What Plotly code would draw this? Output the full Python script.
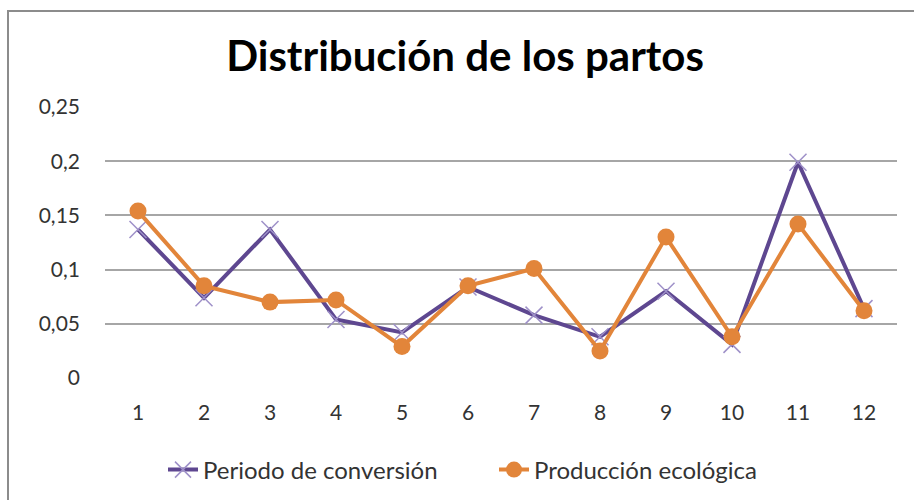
import plotly.graph_objects as go

meses = ["1", "2", "3", "4", "5", "6", "7", "8", "9", "10", "11", "12"]
periodo_conversion = [0.137, 0.074, 0.137, 0.054, 0.042, 0.084, 0.058, 0.038, 0.080, 0.031, 0.199, 0.064]
produccion_ecologica = [0.154, 0.085, 0.070, 0.072, 0.029, 0.085, 0.101, 0.025, 0.130, 0.038, 0.142, 0.062]
y_ticks = [0, 0.05, 0.1, 0.15, 0.2, 0.25]
y_tick_labels = ["0", "0,05", "0,1", "0,15", "0,2", "0,25"]

FONT = "Lato"
PURPLE = "#5E4790"
PURPLE_MARK = "#9E90C8"
ORANGE = "#E2853A"

fig = go.Figure()
fig.add_trace(go.Scatter(
    x=meses, y=periodo_conversion, name="Periodo de conversión",
    mode="lines+markers",
    line=dict(color=PURPLE, width=4),
    marker=dict(symbol="x-thin", size=17, line=dict(color=PURPLE_MARK, width=1.5), color=PURPLE_MARK),
))
fig.add_trace(go.Scatter(
    x=meses, y=produccion_ecologica, name="Producción ecológica",
    mode="lines+markers",
    line=dict(color=ORANGE, width=4),
    marker=dict(symbol="circle", size=17, color=ORANGE),
))

L, R, T, B = 105, 17, 107, 122
W, H = 914, 500
pw, ph = W - L - R, H - T - B

def px(xp):
    return (xp - L) / pw

def py(yp):
    return (H - B - yp) / ph

fig.update_layout(
    width=W, height=H,
    margin=dict(l=L, r=R, t=T, b=B, autoexpand=False),
    paper_bgcolor="white", plot_bgcolor="white",
    font=dict(family=FONT, color="#333333", size=21),
    title=dict(text="<b>Distribución de los partos</b>", x=465 / W, xanchor="center",
               y=1 - 56 / H, yanchor="middle",
               font=dict(family=FONT, size=42, color="#000000")),
    xaxis=dict(type="category", range=[-0.5, 11.5], showgrid=False, zeroline=False,
               showline=False, ticks="", ticklabelstandoff=20, automargin=False,
               tickfont=dict(size=21, color="#333333")),
    yaxis=dict(range=[0, 0.25], tickvals=y_ticks, ticktext=y_tick_labels,
               showgrid=True, gridcolor="#A6A6A6", gridwidth=1.5, zeroline=False,
               showline=False, ticks="", ticklabelstandoff=24, automargin=False,
               tickfont=dict(size=21, color="#333333")),
    showlegend=True,
    legend=dict(orientation="h", x=px(163), xanchor="left", y=py(470), yanchor="middle",
                entrywidth=286, entrywidthmode="pixels",
                font=dict(size=24, color="#333333"),
                bgcolor="rgba(0,0,0,0)"),
    shapes=[dict(type="rect", xref="paper", yref="paper",
                 x0=px(8), x1=px(930), y0=py(520), y1=py(11),
                 line=dict(color="#8C8C8C", width=2), fillcolor="rgba(0,0,0,0)", layer="below")],
)

fig.write_html("out.html", config={"displayModeBar": False},
               post_script="document.body.style.margin='0';document.body.style.padding='0';")
